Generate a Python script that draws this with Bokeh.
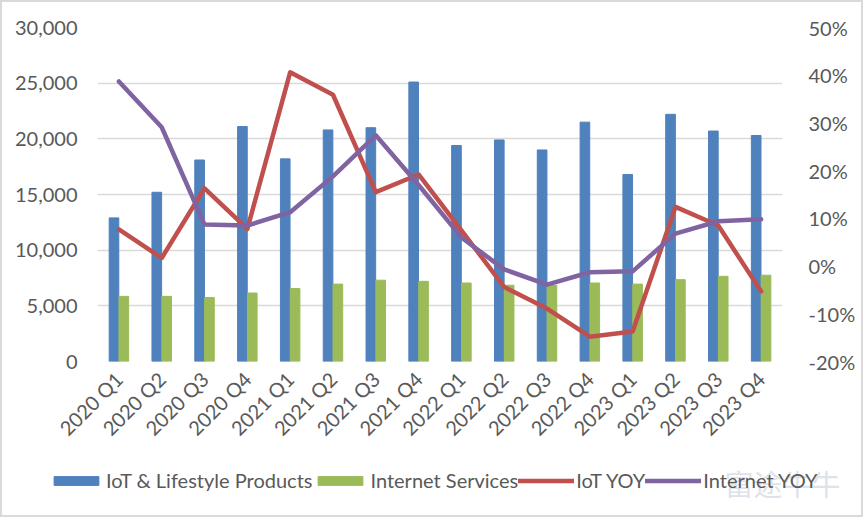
import math
from bokeh.plotting import figure
from bokeh.layouts import column, row
from bokeh.models import (ColumnDataSource, FactorRange, Range1d, LinearAxis, FixedTicker,
                          NumeralTickFormatter, Legend, LegendItem, Label)
from bokeh.transform import dodge
from bokeh.embed import file_html
from bokeh.resources import INLINE

# Quarterly revenue (left axis) and year-over-year growth in % (right axis)
quarters = ["2020 Q1", "2020 Q2", "2020 Q3", "2020 Q4",
            "2021 Q1", "2021 Q2", "2021 Q3", "2021 Q4",
            "2022 Q1", "2022 Q2", "2022 Q3", "2022 Q4",
            "2023 Q1", "2023 Q2", "2023 Q3", "2023 Q4"]
iot_lifestyle = [12900, 15200, 18100, 21100, 18200, 20800, 21000, 25100,
                 19400, 19900, 19000, 21500, 16800, 22200, 20700, 20300]
internet_services = [5850, 5850, 5750, 6150, 6550, 6950, 7300, 7200,
                     7050, 6850, 6850, 7050, 6950, 7350, 7650, 7750]
iot_yoy = [7.7, 1.7, 16.3, 7.8, 40.6, 35.9, 15.5, 19.2,
           7.5, -4.4, -8.9, -14.8, -13.7, 12.4, 8.5, -5.3]
internet_yoy = [38.7, 29.1, 8.7, 8.5, 11.3, 18.8, 27.4, 17.0,
                6.0, -0.7, -3.9, -1.3, -1.1, 6.8, 9.4, 9.8]

left_ticks = [0, 5000, 10000, 15000, 20000, 25000, 30000]
right_ticks = [-0.2, -0.1, 0.0, 0.1, 0.2, 0.3, 0.4, 0.5]
series_names = ["IoT & Lifestyle Products", "Internet Services", "IoT YOY", "Internet YOY"]

BLUE, GREEN, RED, PURPLE = "#4F81BD", "#9BBB59", "#C0504D", "#8064A2"
TXT = "#595959"
FONT = "Lato"

src = ColumnDataSource(dict(
    q=quarters,
    iot=iot_lifestyle,
    net=internet_services,
    iot_yoy=[v / 100 for v in iot_yoy],
    net_yoy=[v / 100 for v in internet_yoy],
))

# ---- main chart ----
p = figure(width=859, height=450, x_range=FactorRange(*quarters),
           y_range=Range1d(0, 30000), output_backend="svg", toolbar_location=None,
           min_border_left=95, min_border_right=79, min_border_top=25, min_border_bottom=91)
p.outline_line_color = None
p.background_fill_color = "white"
p.border_fill_color = "white"
p.extra_y_ranges = {"pct": Range1d(-0.2, 0.5)}

p.xgrid.grid_line_color = None
p.ygrid.grid_line_color = "#d9d9d9"
p.ygrid.grid_line_width = 1.3

ya = p.yaxis[0]
ya.ticker = FixedTicker(ticks=left_ticks)
ya.formatter = NumeralTickFormatter(format="0,0")
ya.axis_line_color = None
ya.major_tick_line_color = None
ya.minor_tick_line_color = None
ya.major_label_standoff = 14
ya.major_label_text_font = FONT
ya.major_label_text_font_size = "20px"
ya.major_label_text_color = TXT

ra = LinearAxis(y_range_name="pct", ticker=FixedTicker(ticks=right_ticks),
                formatter=NumeralTickFormatter(format="0%"))
ra.axis_line_color = None
ra.major_tick_line_color = None
ra.minor_tick_line_color = None
ra.major_label_standoff = 20
ra.major_label_text_font = FONT
ra.major_label_text_font_size = "20px"
ra.major_label_text_color = TXT
p.add_layout(ra, "right")

xa = p.xaxis[0]
xa.axis_line_color = None
xa.major_tick_line_color = None
xa.minor_tick_line_color = None
xa.major_label_orientation = math.pi / 4
xa.major_label_standoff = 8
xa.major_label_text_font = FONT
xa.major_label_text_font_size = "20px"
xa.major_label_text_color = TXT

p.vbar(x=dodge("q", -0.115, range=p.x_range), top="iot", width=0.225, source=src,
       fill_color=BLUE, line_color=BLUE)
p.vbar(x=dodge("q", 0.115, range=p.x_range), top="net", width=0.225, source=src,
       fill_color=GREEN, line_color=GREEN)
p.line(x="q", y="iot_yoy", y_range_name="pct", source=src, line_color=RED,
       line_width=4.5, line_join="round", line_cap="round")
p.line(x="q", y="net_yoy", y_range_name="pct", source=src, line_color=PURPLE,
       line_width=4.5, line_join="round", line_cap="round")

# ---- legend strip under the chart ----
lf = figure(width=859, height=63, x_range=Range1d(0, 1), y_range=Range1d(0, 1),
            x_axis_type=None, y_axis_type=None, output_backend="svg", toolbar_location=None,
            min_border=0, min_border_left=0, min_border_right=0,
            min_border_top=0, min_border_bottom=0)
lf.outline_line_color = None
lf.grid.visible = False
# swatch renderers sit outside the visible range; only their legend glyphs show
off = ColumnDataSource(dict(x=[5, 6], top=[5, 6], y=[5, 6]))
s1 = lf.vbar(x="x", top="top", width=0.1, source=off, fill_color=BLUE, line_color=BLUE)
s2 = lf.vbar(x="x", top="top", width=0.1, source=off, fill_color=GREEN, line_color=GREEN)
s3 = lf.line(x="x", y="y", source=off, line_color=RED, line_width=4.5, line_cap="round")
s4 = lf.line(x="x", y="y", source=off, line_color=PURPLE, line_width=4.5, line_cap="round")

# faint watermark behind the legend
lf.add_layout(Label(x=722, y=33, x_units="screen", y_units="screen", text="富途牛牛",
                    text_font="Noto Sans CJK SC", text_font_size="29px",
                    text_color="#cfd6df", text_alpha=0.7, text_baseline="middle"))

legend = Legend(items=[LegendItem(label=n, renderers=[r])
                       for n, r in zip(series_names, [s1, s2, s3, s4])],
                orientation="horizontal", location=(46, 23),
                glyph_width=56, glyph_height=11, label_standoff=2, spacing=0, padding=0,
                margin=0, border_line_color=None, background_fill_alpha=0,
                label_text_font=FONT, label_text_font_size="20px", label_text_color=TXT)
lf.add_layout(legend, "center")

layout = column(p, row(lf), spacing=0)
layout.styles = {"border": "2px solid #d9d9d9", "background-color": "white"}

open("out.html", "w").write(file_html(layout, INLINE))
